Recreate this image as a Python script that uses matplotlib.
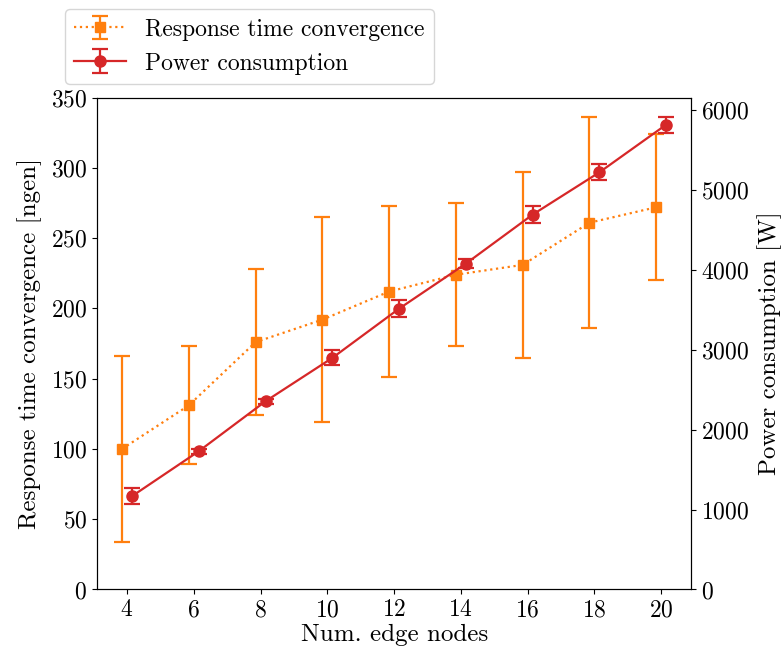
import matplotlib
matplotlib.use("Agg")
import matplotlib.pyplot as plt
import numpy as np

plt.rcParams['font.family'] = ['cmr10', 'DejaVu Serif']
plt.rcParams['mathtext.fontset'] = 'cm'
plt.rcParams['axes.formatter.use_mathtext'] = True
plt.rcParams['font.size'] = 18

# data
edge_nodes = [4, 6, 8, 10, 12, 14, 16, 18, 20]
resp_mean = [100, 131, 176, 192, 212, 224, 231, 261, 272]
resp_err = [66, 42, 52, 73, 61, 51, 66, 75, 52]
power_mean = [1167, 1729, 2354, 2896, 3512, 4075, 4688, 5217, 5813]
power_err = [100, 30, 30, 95, 105, 60, 105, 100, 100]

ORANGE = '#ff7f0e'
RED = '#d62728'

fig = plt.figure(figsize=(7.82, 6.51), dpi=100)
ax = fig.add_axes([0.124, 0.0945, 0.76, 0.7555])
ax2 = ax.twinx()

x = np.array(edge_nodes)
h1 = ax.errorbar(x - 0.15, resp_mean, yerr=resp_err, color=ORANGE, ls=':',
                 lw=1.6, marker='s', ms=7, capsize=6, elinewidth=1.6,
                 capthick=1.6, label='Response time convergence')
h2 = ax2.errorbar(x + 0.15, power_mean, yerr=power_err, color=RED, ls='-',
                  lw=1.6, marker='o', ms=8, capsize=6, elinewidth=1.6,
                  capthick=1.6, label='Power consumption')

ax.set_xticks(edge_nodes)
ax.set_xlim(3.1, 20.9)
ax.set_ylim(0, 350)
ax2.set_ylim(0, 6150)
ax2.set_yticks([0, 1000, 2000, 3000, 4000, 5000, 6000])
ax.tick_params(labelsize=17)
ax2.tick_params(labelsize=17)

ax.set_xlabel('Num. edge nodes', labelpad=2)
ax.set_ylabel('Response time convergence [ngen]', labelpad=6)
ax2.set_ylabel('Power consumption [W]', labelpad=6)

fig.legend([h1, h2], ['Response time convergence', 'Power consumption'],
           loc='lower left', bbox_to_anchor=(65 / 782, 1 - 84 / 651),
           borderaxespad=0, fontsize=17, handlelength=2.2)

fig.savefig('out.png', dpi=100)
